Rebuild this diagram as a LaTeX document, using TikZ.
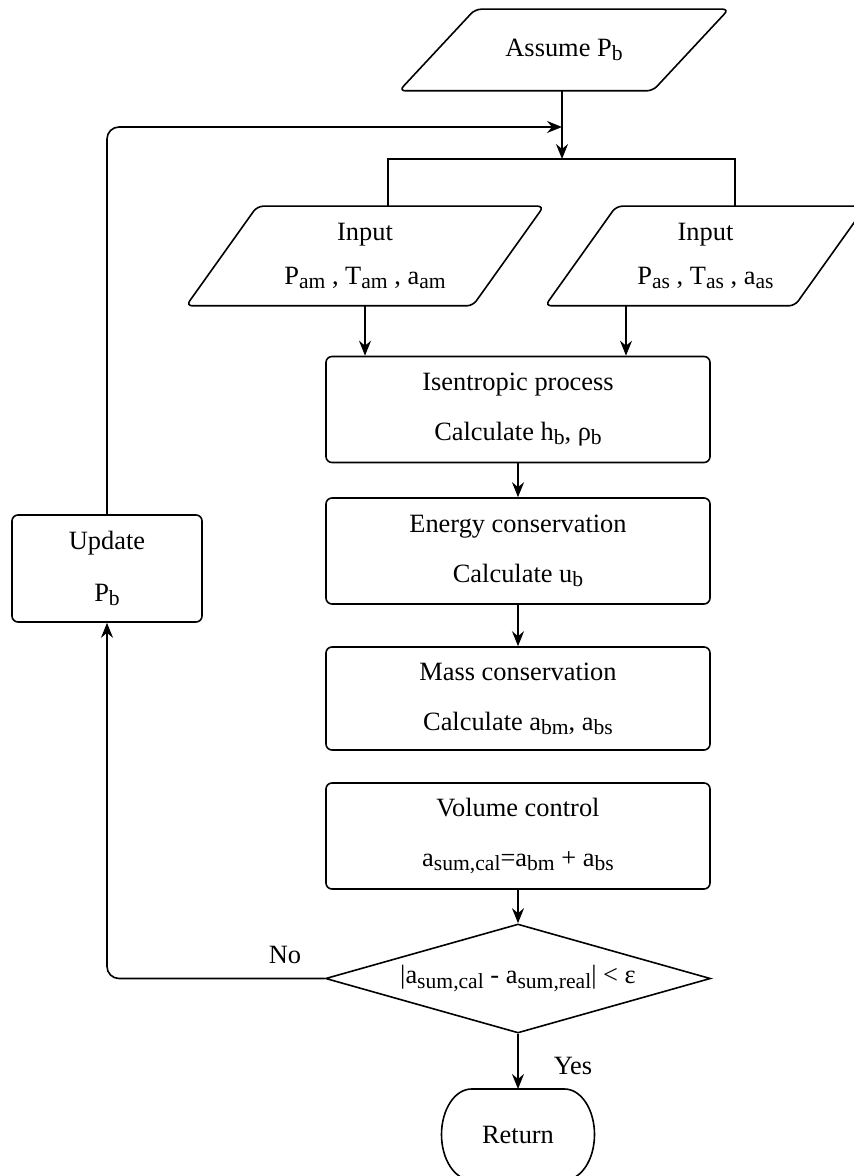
\documentclass[tikz,border=0pt]{standalone}
\usepackage{fontspec}
\setmainfont{Liberation Serif}
\usetikzlibrary{shapes.geometric,arrows.meta}
\newcommand{\lowidx}[1]{\raisebox{-0.35ex}{\fontsize{10.8}{12}\selectfont #1}}

\begin{document}
\begin{tikzpicture}[x=0.5pt, y=-0.5pt, line width=0.8pt,
    font=\fontsize{13.2}{16}\selectfont,
    arr/.style={-{Stealth[length=7.5pt,width=6pt,inset=2.5pt]}},
    procbox/.style={draw, rounded corners=3pt, minimum width=192pt, minimum height=53pt, align=center},
    iobox/.style={inner sep=0pt, align=center},
    decision/.style={draw, diamond, aspect=3.5, inner sep=0pt, minimum width=192.5pt, minimum height=54.5pt}]
    \clip (0,0) rectangle (854,1176);
    % data inputs (outlines slanted below)
    \node[iobox, minimum width=126pt, minimum height=40pt] (assume) at (564,50) {Assume P\lowidx{b}};
    \node[iobox, minimum width=142.5pt, minimum height=49pt] (inm) at (365,256)
        {Input\\[6pt]P\lowidx{am} , T\lowidx{am} , a\lowidx{am}};
    \node[iobox, minimum width=124pt, minimum height=49pt] (ins) at (705.5,256)
        {Input\\[6pt]P\lowidx{as} , T\lowidx{as} , a\lowidx{as}};
    \foreach \n/\s in {assume/19pt, inm/17.75pt, ins/17.75pt}
        \draw[rounded corners=3pt] ([xshift=-\s]\n.south west) -- ([xshift=-\s]\n.south east)
            -- ([xshift=\s]\n.north east) -- ([xshift=\s]\n.north west) -- cycle;
    % process steps
    \node[procbox] (isen) at (518,409.5) {Isentropic process\\[9pt]Calculate h\lowidx{b}, ρ\lowidx{b}};
    \node[procbox] (ener) at (518,551) {Energy conservation\\[9pt]Calculate u\lowidx{b}};
    \node[procbox, minimum height=51.5pt] (mass) at (518,698.5) {Mass conservation\\[9pt]Calculate a\lowidx{bm}, a\lowidx{bs}};
    \node[procbox] (vol) at (518,836) {Volume control\\[9pt]a\lowidx{sum,cal}=a\lowidx{bm} + a\lowidx{bs}};
    \node[decision] (check) at (518,978.5) {|a\lowidx{sum,cal} - a\lowidx{sum,real}| < ε};
    \node[procbox, minimum width=95pt, minimum height=53.5pt] (upd) at (107,568.5) {Update\\[10pt]P\lowidx{b}};
    % end terminal with elliptic sides
    \node[minimum width=46.5pt, minimum height=45.5pt, outer sep=0pt] (ret) at (518,1134.5) {Return};
    \draw (ret.north west) -- (ret.north east) arc[start angle=90, end angle=-90, x radius=15pt, y radius=22.75pt]
        -- (ret.south west) arc[start angle=270, end angle=90, x radius=15pt, y radius=22.75pt] -- cycle;
    \coordinate (split) at (562,159);
    \coordinate (merge) at (562,127);
    % connectors
    \draw[arr] (assume.south -| split) -- (split);
    \draw[arr, rounded corners=6pt] (upd.north) |- (merge);
    \draw ([xshift=11.5pt]inm.north) |- (split) -| ([xshift=14.75pt]ins.north);
    \draw[arr] (inm.south) -- (inm.south |- isen.north);
    \draw[arr] ([xshift=-39.75pt]ins.south) -- ([xshift=-39.75pt]ins.south |- isen.north);
    \draw[arr] (isen) -- (ener);
    \draw[arr] (ener) -- (mass);
    \draw[arr] (vol) -- (check);
    \draw[arr] (check) -- (ret);
    \draw[arr, rounded corners=6pt] (check.west) -| (upd.south);
    \node (no) at (285,955) {No};
    \node (yes) at (573,1066) {Yes};
\end{tikzpicture}
\end{document}
